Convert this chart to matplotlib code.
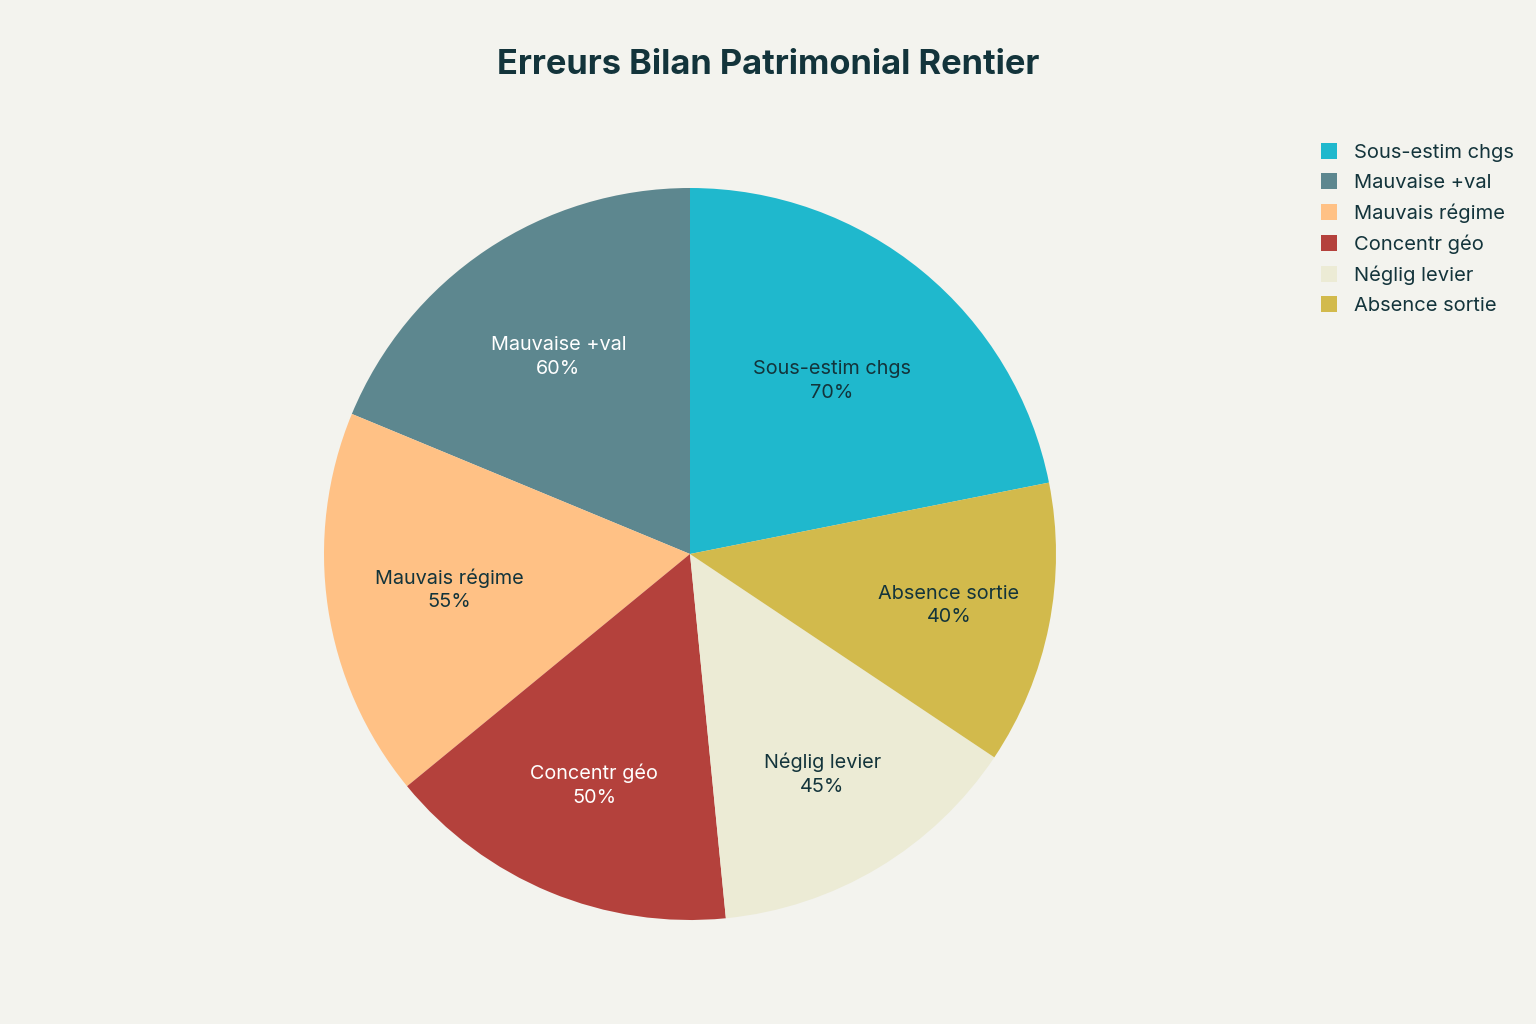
import numpy as np
import matplotlib.pyplot as plt
from matplotlib.lines import Line2D

plt.rcParams['font.family'] = ['Inter', 'DejaVu Sans']

# data
labels = ['Sous-estim chgs', 'Mauvaise +val', 'Mauvais régime',
          'Concentr géo', 'Néglig levier', 'Absence sortie']
values = [70, 60, 55, 50, 45, 40]
colors = ['#1FB8CD', '#5D878F', '#FFC185', '#B4413C', '#ECEBD5', '#D2BA4C']
text_colors = ['#13343B', 'white', '#13343B', 'white', '#13343B', '#13343B']

bg = '#F3F3EE'
fig = plt.figure(figsize=(15.36, 10.24), dpi=100, facecolor=bg)
ax = fig.add_axes([324 / 1536, 104 / 1024, 732 / 1536, 732 / 1024])
ax.set_facecolor(bg)

total = sum(values)
start = 90 - 360 * values[0] / total
wedges, _ = ax.pie(values, colors=colors, startangle=start, counterclock=True,
                   radius=1, wedgeprops=dict(linewidth=0))

# labels inside slices, smaller slices pushed a bit outward
for w, lab, v, tc in zip(wedges, labels, values, text_colors):
    ang = np.deg2rad((w.theta1 + w.theta2) / 2)
    r = 0.61 + 0.0037 * (max(values) - v)
    ax.text(r * np.cos(ang), r * np.sin(ang), f'{lab}\n{v}%',
            ha='center', va='center', fontsize=14.3, color=tc, linespacing=1.42)

ax.set_xlim(-1, 1)
ax.set_ylim(-1, 1)
ax.set_aspect('equal')
ax.axis('off')

fig.text(768 / 1536, 1 - 65 / 1024, 'Erreurs Bilan Patrimonial Rentier',
         ha='center', va='center', fontsize=24.8, fontweight='bold', color='#13343B')

handles = [Line2D([0], [0], marker='s', linestyle='none', markersize=11,
                  markerfacecolor=c, markeredgewidth=0) for c in colors]
leg = fig.legend(handles, labels, loc='upper left',
                 bbox_to_anchor=(1311 / 1536, 1 - 136 / 1024),
                 frameon=False, fontsize=14.5, handlelength=1.0,
                 handletextpad=0.75, labelspacing=0.58, borderaxespad=0)
for t in leg.get_texts():
    t.set_color('#13343B')

fig.savefig('out.png', dpi=100, facecolor=bg)
